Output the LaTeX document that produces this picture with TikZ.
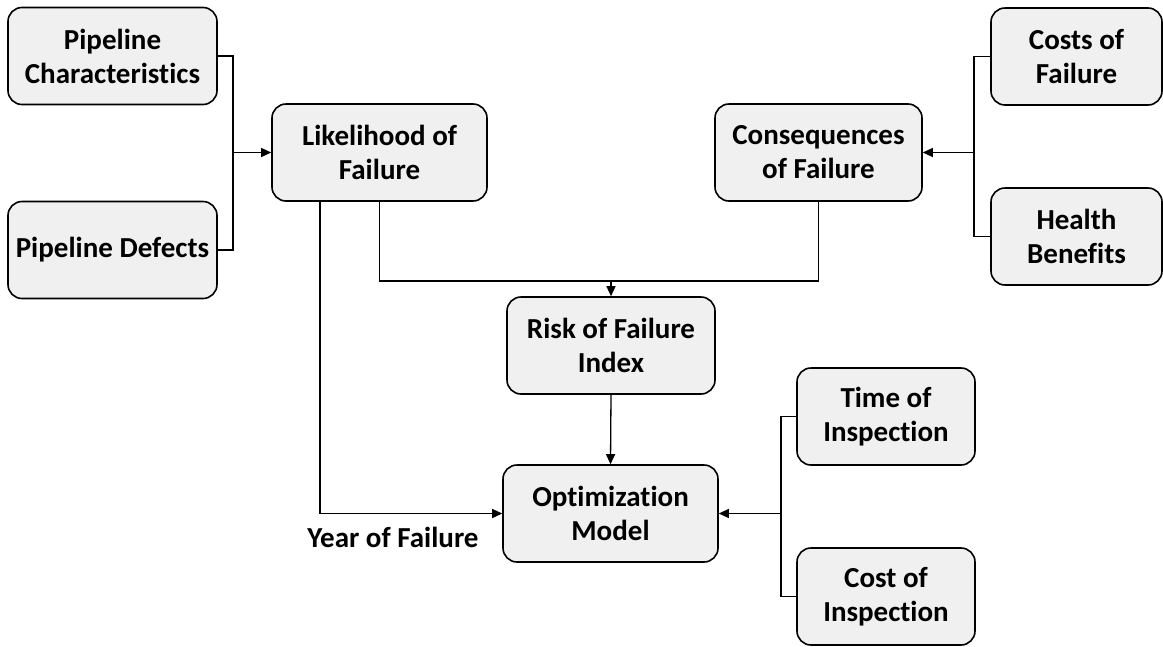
\documentclass[tikz,border=0pt]{standalone}
\usepackage{fontspec}
\setmainfont{Carlito}[Ligatures=NoCommon]
\usetikzlibrary{arrows.meta}
\begin{document}
\begin{tikzpicture}[x=1pt,y=-1pt,
  box/.style={draw, line width=1.6pt, rounded corners=14pt, fill=gray!12, align=center, inner sep=0pt,
    font=\bfseries\fontsize{29}{34}\selectfont, minimum height=97pt},
  link/.style={line width=1.3pt},
  arr/.style={link, -{Triangle[length=10pt,width=9pt]}}]
\useasboundingbox (0,0) rectangle (1163,646);
% inputs of the likelihood
\node[box, minimum width=209pt] (pc) at (112.5,56) {Pipeline\\Characteristics};
\node[box, minimum width=209pt] (pd) at (112.5,250) {Pipeline Defects};
\node[box, minimum width=215pt] (lof) at (379.5,152.5) {Likelihood of\\Failure};
% inputs of the consequences
\node[box, minimum width=207pt] (cof) at (818.5,152.5) {Consequences\\of Failure};
\node[box, minimum width=171pt] (cf) at (1076.5,56.5) {Costs of\\Failure};
\node[box, minimum width=171pt] (hb) at (1076.5,236.5) {Health\\Benefits};
% risk and model
\node[box, minimum width=208pt] (rfi) at (611,345.5) {Risk of Failure\\Index};
\node[box, minimum width=215pt] (om) at (610.5,513.5) {Optimization\\Model};
\node[box, minimum width=178pt] (ti) at (886,416.5) {Time of\\Inspection};
\node[box, minimum width=178pt] (ci) at (886,596.5) {Cost of\\Inspection};
\node[font=\bfseries\fontsize{29}{34}\selectfont] (yof) at (393,537) {Year of Failure};

\coordinate (jl) at (233,152.5);
\draw[link] (pc.east) -| (jl) |- (pd.east);
\draw[arr] (jl) -- (lof.west);

\coordinate (jr) at (974,152.5);
\draw[link] (cf.west) -| (jr) |- (hb.west);
\draw[arr] (jr) -- (cof.east);

\coordinate (jm) at (611,281);
\draw[link] (lof.south) |- (jm) -| (cof.south);
\draw[arr] (jm) -- (rfi.north);
\draw[arr] (rfi.south) -- (om.north);

\draw[arr] ([xshift=-59.5pt]lof.south) |- (om.west);

\coordinate (jo) at (781,513.5);
\draw[link] (ti.west) -| (jo) |- (ci.west);
\draw[arr] (jo) -- (om.east);
\end{tikzpicture}
\end{document}
